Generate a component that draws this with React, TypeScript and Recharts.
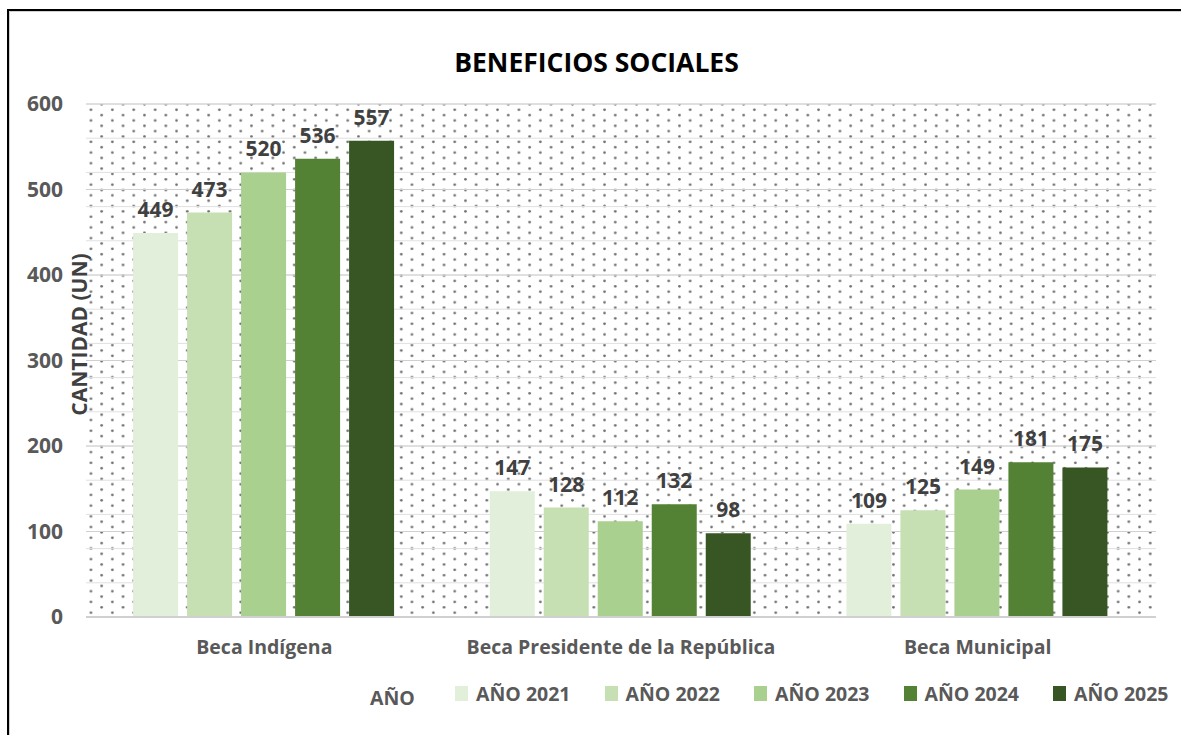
import { BarChart, Bar, XAxis, YAxis, CartesianGrid, LabelList } from "recharts";

const categories = ["Beca Indígena", "Beca Presidente de la República", "Beca Municipal"];
const years = ["AÑO 2021", "AÑO 2022", "AÑO 2023", "AÑO 2024", "AÑO 2025"];
const y2021 = [449, 147, 109];
const y2022 = [473, 128, 125];
const y2023 = [520, 112, 149];
const y2024 = [536, 132, 181];
const y2025 = [557, 98, 175];
const yTicks = [0, 100, 200, 300, 400, 500, 600];
const minorLines = [0, 20, 40, 60, 80, 100, 120, 140, 160, 180, 200, 220, 240, 260, 280, 300, 320, 340, 360, 380, 400, 420, 440, 460, 480, 500, 520, 540, 560, 580, 600];

const colors = ["#e2efda", "#c6e0b4", "#a9d08e", "#548235", "#375623"];
const keys = ["a2021", "a2022", "a2023", "a2024", "a2025"];

const data = categories.map((name, i) => ({
  name,
  a2021: y2021[i],
  a2022: y2022[i],
  a2023: y2023[i],
  a2024: y2024[i],
  a2025: y2025[i],
}));

const FONT = "'Open Sans', sans-serif";

function AxisTitle(props: any) {
  const vb = props.viewBox || {};
  const cx = vb.x + vb.width - 7;
  const cy = vb.y + vb.height / 2 - 26;
  return (
    <text
      x={cx}
      y={cy}
      transform={`rotate(-90 ${cx} ${cy})`}
      textAnchor="middle"
      dominantBaseline="central"
      fill="#404040"
      fontSize={21}
      fontWeight={700}
      fontFamily={FONT}
    >
      CANTIDAD (UN)
    </text>
  );
}

export default function App() {
  return (
    <div style={{ position: "fixed", left: 0, top: 0, width: 1181, height: 735, overflow: "hidden", background: "#fff", fontFamily: FONT }}>
      <svg width={0} height={0} style={{ position: "absolute" }}>
        <defs>
          <pattern id="dots" width={21.4} height={10.7} patternUnits="userSpaceOnUse">
            <rect width={21.4} height={10.7} fill="#fff" />
            <circle cx={5.35} cy={2.7} r={1.35} fill="#707070" />
            <circle cx={16.05} cy={8.05} r={1.35} fill="#707070" />
          </pattern>
        </defs>
      </svg>
      <div
        style={{
          position: "absolute",
          left: 7,
          top: 9,
          width: 1200,
          height: 800,
          borderLeft: "2px solid #000",
          borderTop: "2px solid #000",
          boxShadow: "inset 1px 1px 0 #d0d0d0",
        }}
      />
      <div
        style={{
          position: "absolute",
          left: 0,
          width: 1181,
          top: 44,
          textAlign: "center",
          fontSize: 26.5,
          fontWeight: 700,
          color: "#000",
          paddingLeft: 12,
          boxSizing: "border-box",
        }}
      >
        BENEFICIOS SOCIALES
      </div>
      <div style={{ position: "absolute", left: 0, top: 0 }}>
        <BarChart
          width={1181}
          height={735}
          data={data}
          margin={{ top: 104, right: 25, left: 0, bottom: 58 }}
          barCategoryGap="13.2%"
          barGap={9}
        >
          <CartesianGrid
            vertical={false}
            fill="url(#dots)"
            stroke="#e0e0e0"
            horizontalValues={minorLines}
          />
          <CartesianGrid vertical={false} stroke="#d0d0d0" horizontalValues={yTicks} />
          <XAxis
            dataKey="name"
            height={60}
            axisLine={{ stroke: "#d0d0d0", strokeWidth: 2 }}
            tickLine={false}
            tickMargin={17}
            tick={{ fill: "#595959", fontSize: 19.5, fontWeight: 700, fontFamily: FONT }}
          />
          <YAxis
            width={86}
            domain={[0, 600]}
            ticks={yTicks}
            axisLine={false}
            tickLine={false}
            tickMargin={17}
            tick={{ fill: "#595959", fontSize: 21, fontWeight: 700, fontFamily: FONT }}
            label={<AxisTitle />}
          />
          {keys.map((k, i) => (
            <Bar key={k} dataKey={k} name={years[i]} fill={colors[i]} isAnimationActive={false}>
              <LabelList
                dataKey={k}
                position="top"
                offset={16}
                fill="#404040"
                fontSize={21}
                fontWeight={700}
                fontFamily={FONT}
              />
            </Bar>
          ))}
        </BarChart>
      </div>
      <div
        style={{
          position: "absolute",
          left: 370,
          top: 684,
          fontSize: 19.5,
          fontWeight: 700,
          color: "#595959",
        }}
      >
        AÑO
      </div>
      <div
        style={{
          position: "absolute",
          left: 455,
          top: 680,
          display: "flex",
          alignItems: "center",
          gap: 34,
          fontSize: 19.5,
          fontWeight: 700,
          color: "#595959",
        }}
      >
        {years.map((y, i) => (
          <div key={y} style={{ display: "flex", alignItems: "center", gap: 8 }}>
            <span style={{ display: "inline-block", width: 13, height: 15, background: colors[i] }} />
            <span>{y}</span>
          </div>
        ))}
      </div>
    </div>
  );
}
